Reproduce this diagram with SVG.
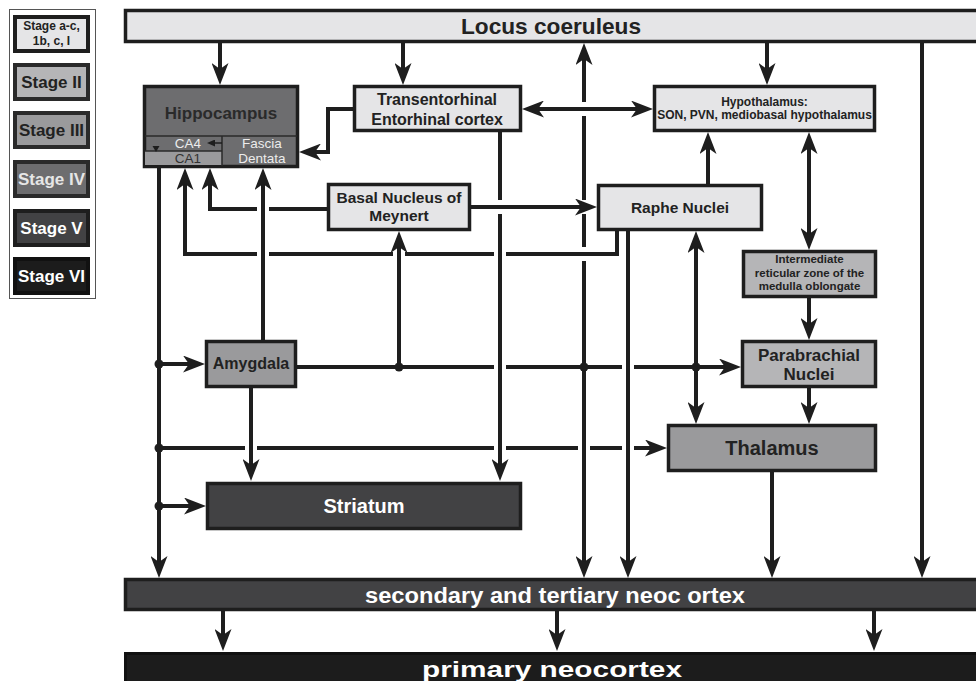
<svg xmlns="http://www.w3.org/2000/svg" width="976" height="681" viewBox="0 0 976 681">
<style>
.t{font-family:"Liberation Sans",Arial,sans-serif;font-weight:bold;text-anchor:middle;fill:#222}
.r{font-family:"Liberation Sans",Arial,sans-serif;text-anchor:middle}
.nb{stroke:#1e1e1e;stroke-width:3.5}
.s1{fill:#e5e5e7}.s2{fill:#b5b5b7}.s3{fill:#9a9a9c}.s4{fill:#6d6d6f}.s5{fill:#424244}.s6{fill:#1c1c1c}
.c{fill:none;stroke:#1e1e1e;stroke-width:4}
.e{marker-end:url(#ah)}
.b{marker-start:url(#ah);marker-end:url(#ah)}
</style>
<defs>
<marker id="ah" viewBox="0 0 22 17" refX="9" refY="8.5" markerWidth="22" markerHeight="17" markerUnits="userSpaceOnUse" orient="auto-start-reverse">
<path d="M0,0 L22,8.5 L0,17 L6,8.5 Z" fill="#1e1e1e"/>
</marker>
<marker id="sm" viewBox="0 0 8 7" refX="1" refY="3.5" markerWidth="8" markerHeight="7" markerUnits="userSpaceOnUse" orient="auto">
<path d="M0,0 L8,3.5 L0,7 Z" fill="#1e1e1e"/>
</marker>
</defs>
<rect width="976" height="681" fill="#fff"/>

<g id="legend">
<rect x="9.5" y="9.5" width="86" height="289" fill="#fff" stroke="#555" stroke-width="1"/>
<rect x="15" y="17" width="73" height="34" class="s1" stroke="#1e1e1e" stroke-width="4"/>
<text class="t" x="51.5" y="30" font-size="12">Stage a-c,</text>
<text class="t" x="51.5" y="45" font-size="12">1b, c, I</text>
<rect x="15" y="65" width="73" height="34" class="s2" stroke="#2a2a2a" stroke-width="4"/>
<text class="t" x="51.5" y="88" font-size="17">Stage II</text>
<rect x="15" y="113" width="73" height="34" class="s3" stroke="#2a2a2a" stroke-width="4"/>
<text class="t" x="51.5" y="136" font-size="17">Stage III</text>
<rect x="15" y="162" width="73" height="34" class="s4" stroke="#2a2a2a" stroke-width="4"/>
<text class="t" x="51.5" y="185" font-size="17" style="fill:#e6e6e6">Stage IV</text>
<rect x="15" y="211" width="73" height="34" class="s5" stroke="#1e1e1e" stroke-width="4"/>
<text class="t" x="51.5" y="234" font-size="17" style="fill:#fff">Stage V</text>
<rect x="15" y="259" width="73" height="34" class="s6" stroke="#111" stroke-width="4"/>
<text class="t" x="51.5" y="282" font-size="17" style="fill:#fff">Stage VI</text>
</g>

<g id="connectors">
<path class="c e" d="M220,43 V72"/>
<path class="c e" d="M403,43 V72"/>
<path class="c b" d="M584,56 V102 M584,116 V200 M584,214 V247 M584,261 V565"/>
<path class="c e" d="M767,43 V72"/>
<path class="c e" d="M922,43 V565"/>
<path class="c b" d="M535,109 H640"/>
<path class="c e" d="M353,109 H328 V152 H312"/>
<path class="c e" d="M500,132 V200 M500,214 V468"/>
<path class="c e" d="M159,168 V565"/>
<path class="c e" d="M159,364 H192"/>
<path class="c e" d="M159,448 H245 M257,448 H494 M506,448 H578 M590,448 H622 M634,448 H654"/>
<path class="c e" d="M159,506 H193"/>
<path class="c e" d="M263,340 V181"/>
<path class="c e" d="M327,209 H269 M257,209 H210 V181"/>
<path class="c e" d="M617,231 V254 H506 M494,254 H405 M393,254 H269 M257,254 H185 V181"/>
<path class="c e" d="M471,207 H584"/>
<path class="c e" d="M297,367 H494 M506,367 H622 M634,367 H728"/>
<path class="c e" d="M399,367 V244"/>
<path class="c e" d="M251,388 V468"/>
<path class="c e" d="M708,184 V145"/>
<path class="c b" d="M809,145 V237"/>
<path class="c e" d="M809,298 V327"/>
<path class="c e" d="M809,388 V411"/>
<path class="c b" d="M696,244 V411"/>
<path class="c e" d="M628,231 V565"/>
<path class="c e" d="M772,472 V565"/>
<path class="c e" d="M223,611 V638"/>
<path class="c e" d="M557,611 V638"/>
<path class="c e" d="M874,611 V638"/>
<g fill="#1e1e1e">
<circle cx="159" cy="364" r="4.5"/>
<circle cx="159" cy="448" r="4.5"/>
<circle cx="159" cy="506" r="4.5"/>
<circle cx="399" cy="367" r="4.5"/>
<circle cx="584" cy="367" r="4.5"/>
<circle cx="696" cy="367" r="4.5"/>
</g>
</g>

<g id="locus">
<rect x="125.5" y="10.5" width="860" height="31" class="s1 nb"/>
<text class="t" x="551" y="34" font-size="22" textLength="180" lengthAdjust="spacingAndGlyphs">Locus coeruleus</text>
</g>

<g id="hippocampus">
<rect x="144.5" y="86.5" width="153" height="80" class="s4 nb"/>
<rect x="145" y="151" width="77" height="14" class="s3"/>
<path d="M145,136 H297 M222,136 V166 M145,151 H222" stroke="#2a2a2a" stroke-width="1.5" fill="none"/>
<text class="t" x="221" y="119" font-size="17" style="fill:#2a2a2a">Hippocampus</text>
<text class="r" x="188" y="148" font-size="13.5" fill="#ececec">CA4</text>
<text class="r" x="188" y="163" font-size="13.5" fill="#333">CA1</text>
<text class="r" x="262" y="148" font-size="13.5" fill="#ececec">Fascia</text>
<text class="r" x="262" y="163" font-size="13.5" fill="#ececec">Dentata</text>
<path d="M222,143 H214" stroke="#1e1e1e" stroke-width="1.5" marker-end="url(#sm)"/>
<path d="M152.5,146 L159.5,146 L156,152 Z" fill="#1e1e1e"/>
</g>

<g id="transentorhinal">
<rect x="354.5" y="86.5" width="166" height="44" class="s1 nb"/>
<text class="t" x="437" y="105" font-size="16">Transentorhinal</text>
<text class="t" x="437" y="125" font-size="16">Entorhinal cortex</text>
</g>

<g id="hypothalamus">
<rect x="654.5" y="86.5" width="220" height="44" class="s1 nb"/>
<text class="t" x="764.5" y="106" font-size="12">Hypothalamus:</text>
<text class="t" x="764.5" y="119" font-size="12">SON, PVN, mediobasal hypothalamus</text>
</g>

<g id="basal">
<rect x="328.5" y="184.5" width="141" height="45" class="s1 nb"/>
<text class="t" x="399" y="203" font-size="15.5">Basal Nucleus of</text>
<text class="t" x="399" y="221" font-size="15.5">Meynert</text>
</g>

<g id="raphe">
<rect x="598.5" y="185.5" width="163" height="44" class="s1 nb"/>
<text class="t" x="680" y="213" font-size="15.5">Raphe Nuclei</text>
</g>

<g id="intermediate">
<rect x="743.5" y="251.5" width="132" height="45" class="s2 nb"/>
<text class="t" x="809.5" y="263" font-size="11.5">Intermediate</text>
<text class="t" x="809.5" y="277" font-size="11.5">reticular zone of the</text>
<text class="t" x="809.5" y="290" font-size="11.5">medulla oblongate</text>
</g>

<g id="amygdala">
<rect x="206.5" y="341.5" width="89" height="45" class="s3 nb"/>
<text class="t" x="251" y="369" font-size="16">Amygdala</text>
</g>

<g id="parabrachial">
<rect x="742.5" y="341.5" width="133" height="45" class="s2 nb"/>
<text class="t" x="809" y="361" font-size="17">Parabrachial</text>
<text class="t" x="809" y="380" font-size="17">Nuclei</text>
</g>

<g id="thalamus">
<rect x="668.5" y="425.5" width="207" height="45" class="s3 nb"/>
<text class="t" x="772" y="455" font-size="20">Thalamus</text>
</g>

<g id="striatum">
<rect x="207.5" y="483.5" width="313" height="45" class="s5 nb"/>
<text class="t" x="364" y="513" font-size="20" style="fill:#fff">Striatum</text>
</g>

<g id="secondary">
<rect x="125.5" y="579.5" width="860" height="30" class="s5 nb"/>
<text class="t" x="555" y="603" font-size="22" style="fill:#fff" textLength="380" lengthAdjust="spacingAndGlyphs">secondary and tertiary neoc ortex</text>
</g>

<g id="primary">
<rect x="125.5" y="653.5" width="860" height="40" class="s6" stroke="#111" stroke-width="3"/>
<text class="t" x="552" y="677" font-size="22" style="fill:#fff" textLength="260" lengthAdjust="spacingAndGlyphs">primary neocortex</text>
</g>
</svg>
